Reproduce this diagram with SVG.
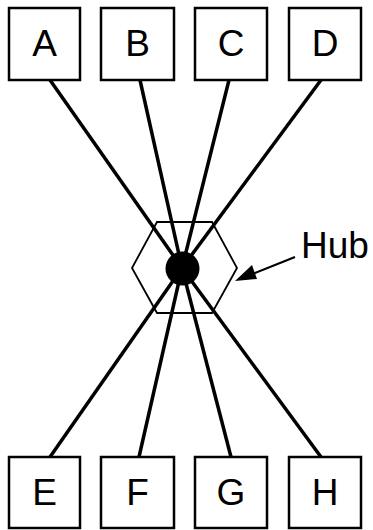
<svg xmlns="http://www.w3.org/2000/svg" width="373" height="530" viewBox="0 0 373 530">
<style>
.box{fill:#fff;stroke:#000;stroke-width:2.5}
.lbl{font-family:"Liberation Sans",Arial,sans-serif;font-size:37px;fill:#000;text-anchor:middle}
.ln{stroke:#000;stroke-width:3.5;fill:none}
</style>
<rect width="373" height="530" fill="#fff"/>
<g id="connectors">
<line class="ln" x1="50" y1="80" x2="182" y2="268"/>
<line class="ln" x1="140" y1="80" x2="182" y2="268"/>
<line class="ln" x1="229" y1="80" x2="182" y2="268"/>
<line class="ln" x1="321" y1="80" x2="182" y2="268"/>
<line class="ln" x1="50" y1="457" x2="182" y2="268"/>
<line class="ln" x1="139" y1="457" x2="182" y2="268"/>
<line class="ln" x1="231" y1="457" x2="182" y2="268"/>
<line class="ln" x1="321" y1="457" x2="182" y2="268"/>
</g>
<g id="hub">
<polygon points="132,268 157,222 212,222 237,268 212,313 157,313" fill="none" stroke="#000" stroke-width="1.8"/>
<circle cx="182.5" cy="268.5" r="17" fill="#000"/>
</g>
<g id="hub-label">
<line x1="295" y1="257" x2="245" y2="277" stroke="#000" stroke-width="2.2"/>
<path d="M235,281 L252,265 L257,279 Z" fill="#000"/>
<text class="lbl" x="335" y="258">Hub</text>
</g>
<g id="A"><rect class="box" x="9" y="8" width="71" height="72"/><text class="lbl" x="44.5" y="56">A</text></g>
<g id="B"><rect class="box" x="101" y="8" width="73" height="72"/><text class="lbl" x="137.5" y="56">B</text></g>
<g id="C"><rect class="box" x="195" y="8" width="72" height="72"/><text class="lbl" x="231" y="56">C</text></g>
<g id="D"><rect class="box" x="289" y="8" width="72" height="72"/><text class="lbl" x="325" y="56">D</text></g>
<g id="E"><rect class="box" x="9" y="457" width="71" height="71"/><text class="lbl" x="44.5" y="505">E</text></g>
<g id="F"><rect class="box" x="101" y="457" width="73" height="71"/><text class="lbl" x="137.5" y="505">F</text></g>
<g id="G"><rect class="box" x="195" y="457" width="72" height="71"/><text class="lbl" x="231" y="505">G</text></g>
<g id="H"><rect class="box" x="289" y="457" width="72" height="71"/><text class="lbl" x="325" y="505">H</text></g>
</svg>
